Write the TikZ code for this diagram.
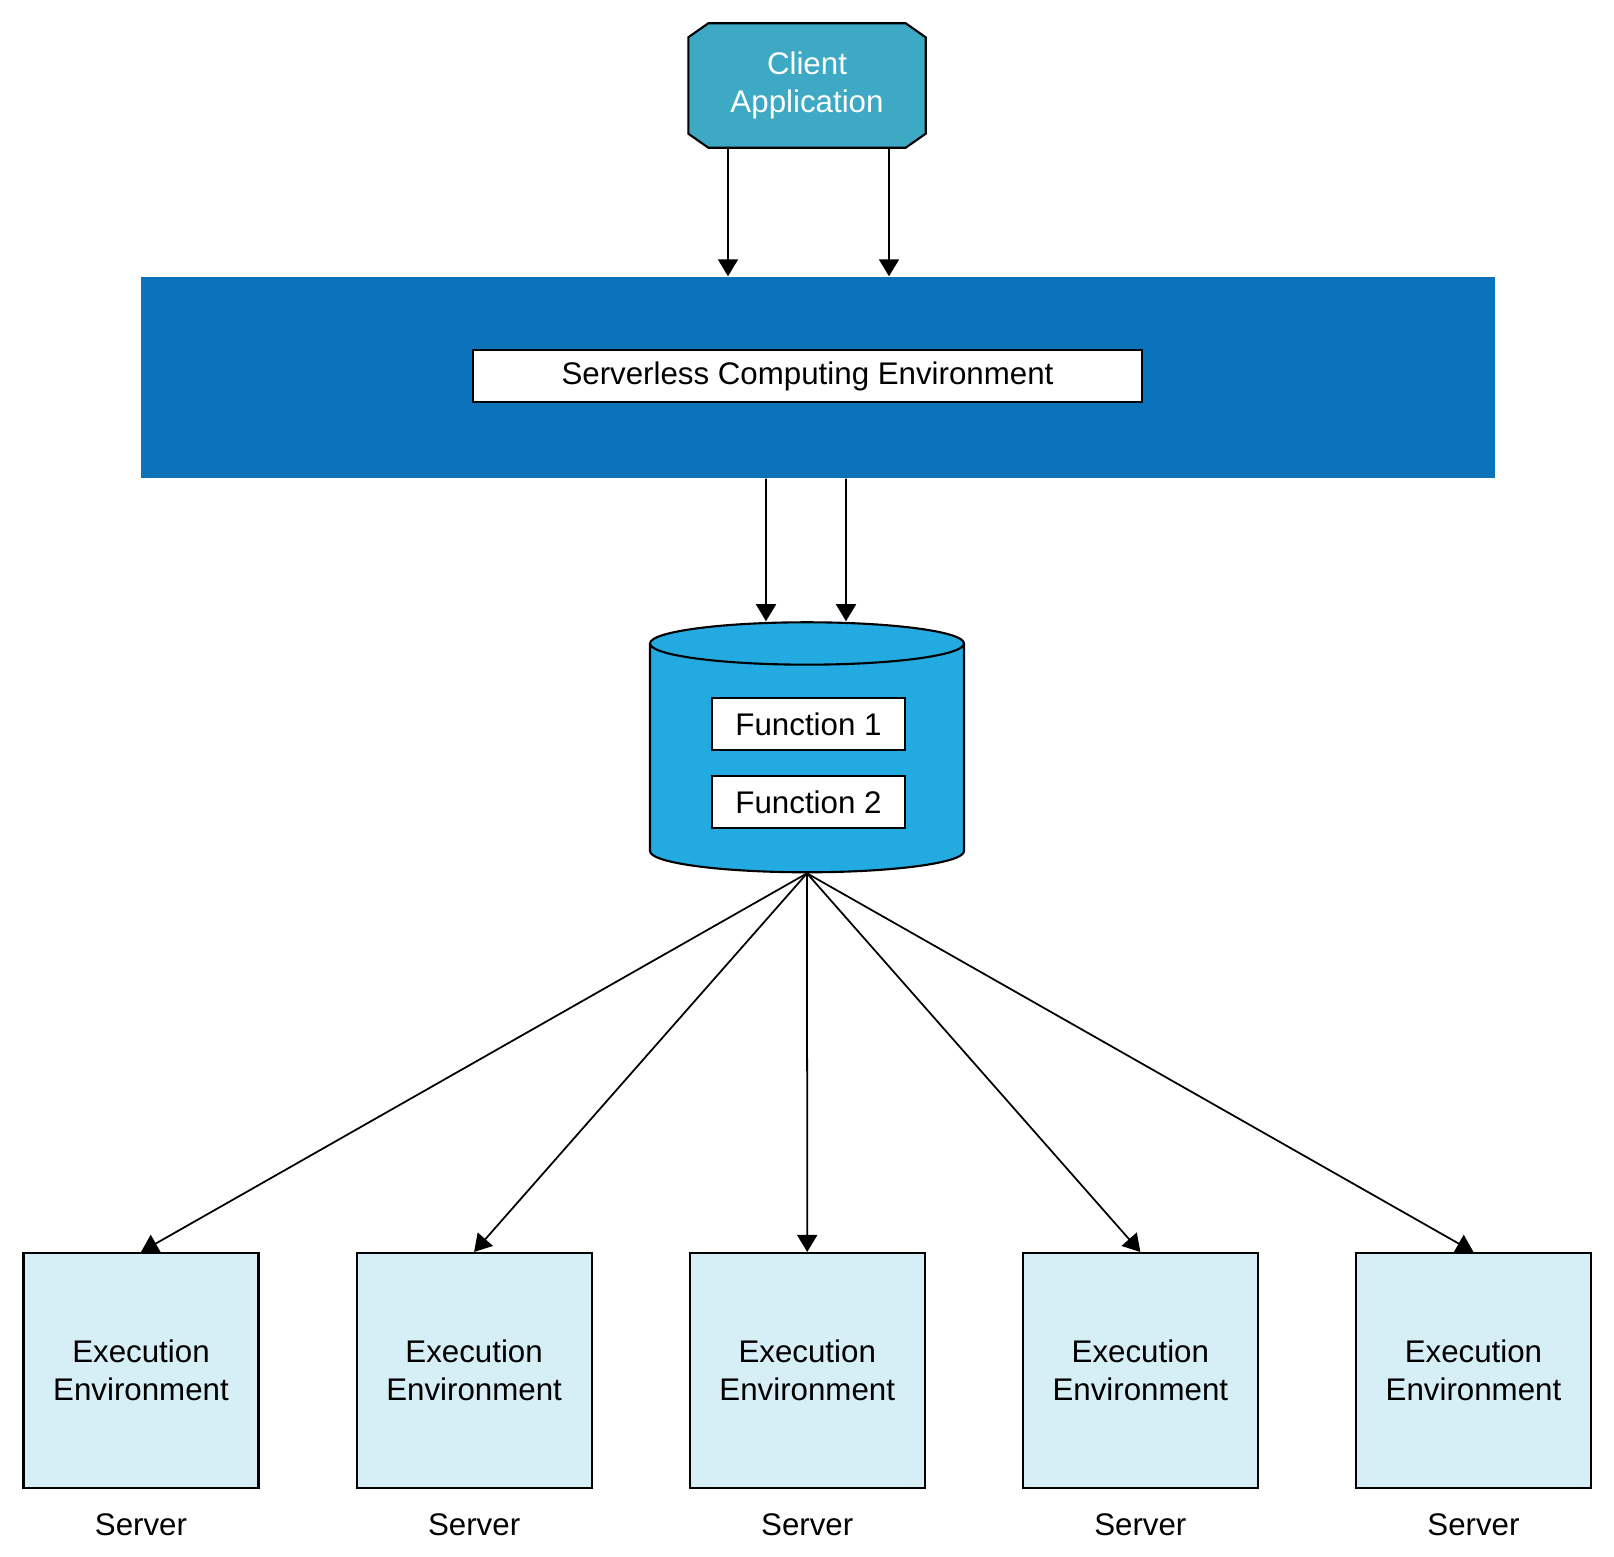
\documentclass[tikz,border=0pt]{standalone}
\usepackage{fontspec}
\setmainfont{Liberation Sans}
\usepackage{tikz}
\usetikzlibrary{positioning,arrows.meta,shapes.geometric,backgrounds}
\usepackage{xcolor}
\definecolor{clientteal}{HTML}{3DA9C4}
\definecolor{bandblue}{HTML}{0C72BA}
\definecolor{cylblue}{HTML}{22AAE1}
\definecolor{envfill}{HTML}{D6EEF5}

\begin{document}
\begin{tikzpicture}[
  every node/.style={font=\fontsize{8.9}{10.8}\selectfont},
  clientbox/.style={
    text=white, align=center, inner sep=0pt,
    minimum width=2.36cm, minimum height=1.23cm
  },
  clientshape/.style={
    draw=black, line width=0.6pt, fill=clientteal
  },
  bandbox/.style={
    fill=bandblue, inner sep=0pt,
    minimum width=13.54cm, minimum height=2.01cm
  },
  labelbox/.style={
    draw=black, line width=0.6pt, fill=white,
    inner sep=0pt, minimum height=0.52cm
  },
  cylnode/.style={
    cylinder, shape border rotate=90, aspect=0.135,
    draw=black, line width=0.6pt, fill=cylblue,
    inner xsep=1.57cm, inner ysep=0pt,
    minimum height=2.5cm
  },
  envbox/.style={
    draw=black, line width=0.6pt, fill=envfill,
    align=center, inner sep=0pt,
    minimum width=2.35cm, minimum height=2.35cm
  },
  arr/.style={-{Triangle[length=0.17cm,width=0.2cm]}, line width=0.5pt}
]
  \useasboundingbox (0,0) rectangle (16.14,-15.56);

  % Client
  \node[clientbox] (client) at (8.07,-0.855) {Client\\Application};
  \begin{scope}[on background layer]
    \draw[clientshape] ([xshift=0.2cm]client.north west) -- ([xshift=-0.2cm]client.north east)
      -- ([yshift=-0.14cm]client.north east) -- ([yshift=0.14cm]client.south east)
      -- ([xshift=-0.2cm]client.south east) -- ([xshift=0.2cm]client.south west)
      -- ([yshift=0.14cm]client.south west) -- ([yshift=-0.14cm]client.north west) -- cycle;
  \end{scope}

  % Serverless environment
  \node[bandbox] (band) at (8.18,-3.775) {};
  \node[labelbox, minimum width=6.69cm] (env) at (8.075,-3.76) {Serverless Computing Environment};

  % Functions
  \node[cylnode] (cyl) at (8.07,-7.69) {};
  \node[labelbox, minimum width=1.93cm] (fn1) at (8.085,-7.24) {Function 1};
  \node[labelbox, minimum width=1.93cm, below=0.24cm of fn1] (fn2) {Function 2};

  % Execution environments
  \node[envbox] (ee1) at (1.41,-13.705) {Execution\\Environment};
  \node[envbox, right=0.96cm of ee1] (ee2) {Execution\\Environment};
  \node[envbox, right=0.96cm of ee2] (ee3) {Execution\\Environment};
  \node[envbox, right=0.96cm of ee3] (ee4) {Execution\\Environment};
  \node[envbox, right=0.96cm of ee4] (ee5) {Execution\\Environment};

  \node[below=0.12cm of ee1] (srv1) {Server};
  \node[below=0.12cm of ee2] (srv2) {Server};
  \node[below=0.12cm of ee3] (srv3) {Server};
  \node[below=0.12cm of ee4] (srv4) {Server};
  \node[below=0.12cm of ee5] (srv5) {Server};

  % Arrows
  \draw[arr] ([xshift=-0.79cm]client.south) -- ([xshift=-0.79cm]client.south |- band.north);
  \draw[arr] ([xshift=0.82cm]client.south) -- ([xshift=0.82cm]client.south |- band.north);
  \draw[arr] ([xshift=-0.41cm]band.south -| cyl.center) -- ([xshift=-0.41cm]cyl.north);
  \draw[arr] ([xshift=0.39cm]band.south -| cyl.center) -- ([xshift=0.39cm]cyl.north);

  \draw[arr] (cyl.south) -- (ee1.north);
  \draw[arr] (cyl.south) -- (ee2.north);
  \draw[arr] (cyl.south) -- (ee3.north);
  \draw[arr] (cyl.south) -- (ee4.north);
  \draw[arr] (cyl.south) -- (ee5.north);
\end{tikzpicture}
\end{document}
